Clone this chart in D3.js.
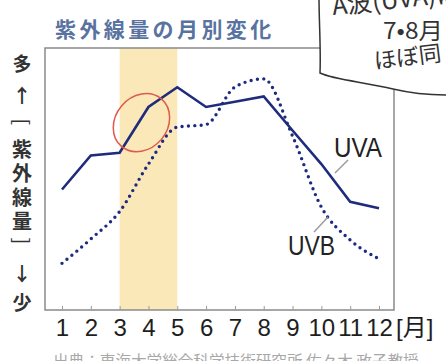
<!DOCTYPE html>
<html>
<head>
<meta charset="utf-8">
<script src="https://cdn.jsdelivr.net/npm/d3@7"></script>
<style>
  html, body { margin: 0; padding: 0; background: #fff; overflow: hidden; }
  svg { display: block; }
</style>
</head>
<body>
<svg id="chart" width="446" height="361"></svg>
<script>
// Monthly UV amounts (relative scale, 0 = none, 100 = top of frame)
const months = [1, 2, 3, 4, 5, 6, 7, 8, 9, 10, 11, 12];
const monthLabels = ["1", "2", "3", "4", "5", "6", "7", "8", "9", "10", "11", "12"];
const uva = [46, 59, 60, 77.5, 85, 77.5, 79.5, 81.5, 68.5, 55.7, 41.3, 38.8];
const uvb = [17.8, 27.1, 37.6, 55.7, 69.8, 70.8, 85.1, 88.2, 66.4, 39.3, 26.7, 19.5];
const springBand = [3, 5];
const seriesNames = ["UVA", "UVB"];

const titleText = "紫外線量の月別変化";
const unitText = "[月]";
const yCaptionTop = ["多", "↑"];
const yCaptionWord = "紫外線量";
const yCaptionBottom = ["↓", "少"];
const sourceText = "出典：東海大学総合科学技術研究所 佐々木 政子教授";
const noteLines = ["A波(UVA)は", "7•8月", "ほぼ同"];

const svg = d3.select("#chart");
const jp = "'Noto Sans CJK JP', 'Noto Sans', sans-serif";
const latin = "'Liberation Sans', Arial, 'Noto Sans CJK JP', sans-serif";

const frame = { left: 45, top: 48, right: 394, bottom: 310 };
const x = d3.scaleLinear().domain([1, 12]).range([62, 379]);
const y = d3.scaleLinear().domain([0, 100]).range([frame.bottom, frame.top]);

// highlighted spring months
svg.append("rect")
  .attr("x", x(springBand[0]))
  .attr("y", frame.top)
  .attr("width", x(springBand[1]) - x(springBand[0]))
  .attr("height", frame.bottom - frame.top)
  .attr("fill", "#fbe8b9");

// frame
svg.append("path")
  .attr("d", `M${frame.left},${frame.top}H${frame.right}V${frame.bottom}H${frame.left}Z`)
  .attr("fill", "none")
  .attr("stroke", "#8a8a8a")
  .attr("stroke-width", 1.5);

// month axis with short inward ticks
const axis = svg.append("g")
  .attr("transform", `translate(0,${frame.bottom})`)
  .call(d3.axisBottom(x)
    .tickValues(months)
    .tickFormat((d, i) => monthLabels[i])
    .tickSizeInner(-4)
    .tickSizeOuter(0)
    .tickPadding(9));
axis.select(".domain").remove();
axis.selectAll(".tick line").attr("stroke", "#999").attr("stroke-width", 1);
axis.selectAll(".tick text")
  .attr("font-family", latin)
  .attr("font-size", 24)
  .attr("fill", "#1e1e1e");

svg.append("text")
  .attr("x", 396).attr("y", 336)
  .attr("font-family", latin)
  .attr("font-size", 24)
  .attr("fill", "#1e1e1e")
  .text(unitText);

// UVB: dotted, smoothed
const uvbLine = d3.line()
  .x((d, i) => x(months[i]))
  .y(d => y(d))
  .curve(d3.curveMonotoneX);
svg.append("path")
  .datum(uvb)
  .attr("d", uvbLine)
  .attr("fill", "none")
  .attr("stroke", "#1d2a82")
  .attr("stroke-width", 3.4)
  .attr("stroke-linecap", "round")
  .attr("stroke-dasharray", "0,6.4");

// UVA: solid polyline
const uvaLine = d3.line()
  .x((d, i) => x(months[i]))
  .y(d => y(d));
svg.append("path")
  .datum(uva)
  .attr("d", uvaLine)
  .attr("fill", "none")
  .attr("stroke", "#1f2b7c")
  .attr("stroke-width", 2.6)
  .attr("stroke-linejoin", "miter");

// red ring around the March–April rise
svg.append("ellipse")
  .attr("cx", 0).attr("cy", 0)
  .attr("rx", 31).attr("ry", 26)
  .attr("transform", `translate(${(x(3) + x(5)) / 2 - 7},${y(71.5)}) rotate(-50)`)
  .attr("fill", "none")
  .attr("stroke", "#de5a4c")
  .attr("stroke-width", 1.5);

// series labels with leader lines
svg.append("line")
  .attr("x1", 348).attr("y1", 160).attr("x2", 335).attr("y2", 173)
  .attr("stroke", "#999").attr("stroke-width", 1.4);
svg.append("line")
  .attr("x1", 328).attr("y1", 217).attr("x2", 314).attr("y2", 232)
  .attr("stroke", "#999").attr("stroke-width", 1.4);
svg.append("text")
  .attr("x", 334).attr("y", 156.5)
  .attr("font-family", latin).attr("font-size", 28)
  .attr("textLength", 48).attr("lengthAdjust", "spacingAndGlyphs")
  .attr("fill", "#222")
  .text(seriesNames[0]);
svg.append("text")
  .attr("x", 288).attr("y", 255)
  .attr("font-family", latin).attr("font-size", 28)
  .attr("textLength", 47).attr("lengthAdjust", "spacingAndGlyphs")
  .attr("fill", "#222")
  .text(seriesNames[1]);

// title
svg.append("text")
  .attr("x", 55).attr("y", 37)
  .attr("font-family", jp)
  .attr("font-size", 21)
  .attr("font-weight", 700)
  .attr("letter-spacing", 3.4)
  .attr("fill", "#5873a0")
  .text(titleText);

// vertical axis caption: 多 ↑ [紫外線量] ↓ 少
const capX = 22;
const capStyle = sel => sel
  .attr("text-anchor", "middle")
  .attr("dominant-baseline", "central")
  .attr("font-family", jp)
  .attr("font-weight", 700)
  .attr("fill", "#333");

[[yCaptionTop[0], 62], [yCaptionTop[1], 94]].forEach(([c, cy]) => {
  svg.append("text").call(capStyle)
    .attr("x", capX).attr("y", cy).attr("font-size", 19).text(c);
});
[[yCaptionBottom[0], 272.5], [yCaptionBottom[1], 301.5]].forEach(([c, cy]) => {
  svg.append("text").call(capStyle)
    .attr("x", capX).attr("y", cy).attr("font-size", 19).text(c);
});

// the word itself runs top-to-bottom
svg.append("text")
  .attr("x", capX).attr("y", 139)
  .style("writing-mode", "vertical-rl")
  .attr("font-family", jp)
  .attr("font-weight", 700)
  .attr("font-size", 20)
  .attr("letter-spacing", 4)
  .attr("fill", "#333")
  .text(yCaptionWord);

// brackets turned sideways
[["[", 122], ["]", 241]].forEach(([c, cy]) => {
  svg.append("text").call(capStyle)
    .attr("x", capX).attr("y", cy)
    .attr("font-size", 20)
    .attr("font-weight", 400)
    .attr("transform", `rotate(90,${capX},${cy})`)
    .text(c);
});

// speech bubble in the corner
svg.append("path")
  .attr("d", "M319,-2 C319,20 321,50 320,73 C335,80 365,82 393,89 C410,93 430,95 448,95 L448,-2 Z")
  .attr("fill", "#fff");
svg.append("path")
  .attr("d", "M319,-2 C319,20 321,50 320,73 C335,80 365,82 393,89 C410,93 430,95 448,95")
  .attr("fill", "none")
  .attr("stroke", "#333")
  .attr("stroke-width", 1.5);
svg.append("text")
  .attr("x", 333).attr("y", 15)
  .attr("transform", "rotate(-6,333,15)")
  .attr("font-family", jp).attr("font-size", 25)
  .attr("fill", "#333")
  .text(noteLines[0]);
svg.append("text")
  .attr("x", 383).attr("y", 39)
  .attr("font-family", jp).attr("font-size", 23)
  .attr("textLength", 60).attr("lengthAdjust", "spacingAndGlyphs")
  .attr("fill", "#333")
  .text(noteLines[1]);
svg.append("text")
  .attr("x", 375).attr("y", 69)
  .attr("transform", "rotate(-7,375,69)")
  .attr("font-family", jp).attr("font-size", 22.5)
  .attr("fill", "#333")
  .text(noteLines[2]);

// source line
svg.append("text")
  .attr("x", 53).attr("y", 367)
  .attr("font-family", jp)
  .attr("font-size", 15.6)
  .attr("fill", "#a8a8a8")
  .text(sourceText);
</script>
</body>
</html>
